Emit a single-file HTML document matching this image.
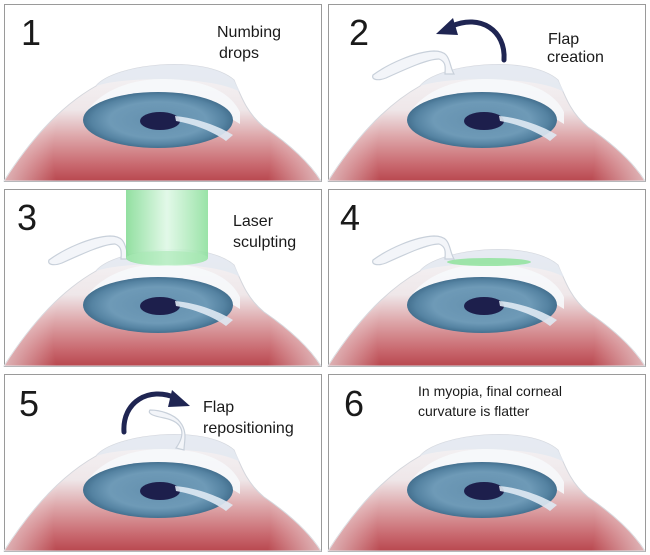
<!DOCTYPE html>
<html><head><meta charset="utf-8"><style>
html,body{margin:0;padding:0;background:#fff;}
svg{display:block;}
text{font-family:"Liberation Sans",sans-serif;fill:#1a1a1a;}
</style></head><body>
<svg width="650" height="555" viewBox="0 0 650 555" xmlns="http://www.w3.org/2000/svg">
<defs>
<linearGradient id="globe" gradientUnits="userSpaceOnUse" x1="0" y1="58" x2="0" y2="177">
<stop offset="0" stop-color="#f5f5f7"/>
<stop offset="0.4" stop-color="#efe7e9"/>
<stop offset="0.62" stop-color="#dea8ab"/>
<stop offset="0.85" stop-color="#ca6c72"/>
<stop offset="1" stop-color="#b9484f"/>
</linearGradient>
<radialGradient id="edge" gradientUnits="userSpaceOnUse" cx="158" cy="150" r="175">
<stop offset="0.62" stop-color="#fff" stop-opacity="0"/>
<stop offset="1" stop-color="#f0f0f0" stop-opacity="0.8"/>
</radialGradient>
<radialGradient id="iris" cx="0.5" cy="0.5" r="0.5">
<stop offset="0" stop-color="#6490ae"/>
<stop offset="0.65" stop-color="#6e9ab7"/>
<stop offset="0.88" stop-color="#5583a2"/>
<stop offset="1" stop-color="#44708f"/>
</radialGradient>
<linearGradient id="laser" x1="0" y1="0" x2="1" y2="0">
<stop offset="0" stop-color="#86dc96"/>
<stop offset="0.5" stop-color="#dff8e6"/>
<stop offset="1" stop-color="#8fe09e"/>
</linearGradient>
<g id="eye">
<path d="M0,177 C30,130 60,100 92,82 C110,60 200,50 230,76 C238,95 244,110 260,123 C285,140 305,158 317,177 Z" fill="url(#globe)" stroke="#d4d6dc" stroke-width="1"/>
<path d="M0,177 C30,130 60,100 92,82 C110,60 200,50 230,76 C238,95 244,110 260,123 C285,140 305,158 317,177 Z" fill="url(#edge)"/>
<path d="M92,82 C110,60 200,50 230,76 C232,80 234,84 236,88 C210,72 120,72 92,82 Z" fill="#e3e9f1" opacity="0.85"/>
<path d="M80,112 C95,85 130,75 158,75 C195,75 225,85 236,108 L236,120 C200,95 110,95 80,118 Z" fill="#f6f8fb" opacity="0.9"/>
<ellipse cx="154" cy="116" rx="75" ry="28" fill="url(#iris)"/>
<ellipse cx="156" cy="117" rx="20" ry="9" fill="#1d1f4c"/>
<path d="M171,112 C195,114 218,124 229,131 L222,137 C210,128 190,120 172,117 Z" fill="#dfe9f3" opacity="0.9"/>
</g>
<g id="flap">
<path d="M126,70 C120,60 124,47 106,47 C86,48 60,60 45,71 C43,76 50,77 58,74 C80,64 100,55 111,55 C119,58 117,65 117,70 Z" fill="#f3f5f9" stroke="#c8d0da" stroke-width="1.2"/>
</g>
</defs>

<g transform="translate(4,4)">
<rect x="0.5" y="0.5" width="317" height="177" fill="#fff" stroke="#9a9a9a"/>
<use href="#eye"/>
<text x="17" y="41" font-size="36">1</text>
<text x="213" y="33" font-size="16">Numbing</text>
<text x="215" y="54" font-size="16">drops</text>
</g>

<g transform="translate(328,4)">
<rect x="0.5" y="0.5" width="317" height="177" fill="#fff" stroke="#9a9a9a"/>
<use href="#eye"/>
<use href="#flap"/>
<path d="M176,56 C178,26 152,10 124,22" fill="none" stroke="#1f2552" stroke-width="5" stroke-linecap="round"/>
<polygon points="108,30 125,14 130,31" fill="#1f2552"/>
<text x="21" y="41" font-size="36">2</text>
<text x="220" y="40" font-size="16">Flap</text>
<text x="219" y="58" font-size="16">creation</text>
</g>

<g transform="translate(4,189)">
<rect x="0.5" y="0.5" width="317" height="177" fill="#fff" stroke="#9a9a9a"/>
<use href="#eye"/>
<use href="#flap"/>
<path d="M122,1 L204,1 L204,69 A41,8 0 0 1 122,69 Z" fill="url(#laser)" opacity="0.9"/>
<ellipse cx="163" cy="69" rx="41" ry="7" fill="#a8eab4" opacity="0.6"/>
<text x="13" y="41" font-size="36">3</text>
<text x="229" y="37" font-size="16">Laser</text>
<text x="229" y="58" font-size="16">sculpting</text>
</g>

<g transform="translate(328,189)">
<rect x="0.5" y="0.5" width="317" height="177" fill="#fff" stroke="#9a9a9a"/>
<use href="#eye"/>
<use href="#flap"/>
<ellipse cx="161" cy="73" rx="42" ry="4" fill="#8fe39c" opacity="0.85"/>
<text x="12" y="41" font-size="36">4</text>
</g>

<g transform="translate(4,374)">
<rect x="0.5" y="0.5" width="317" height="177" fill="#fff" stroke="#9a9a9a"/>
<use href="#eye"/>
<path d="M172,74 C182,60 180,48 160,44 C150,42 143,40 146,36 C156,36 170,40 176,48 C184,58 180,68 180,76 Z" fill="#f3f5f9" stroke="#c8d0da" stroke-width="1.2"/>
<text x="15" y="42" font-size="36">5</text>
<path d="M120,58 C118,28 145,12 172,24" fill="none" stroke="#1f2552" stroke-width="5" stroke-linecap="round"/>
<polygon points="186,32 168,16 164,33" fill="#1f2552"/>
<text x="199" y="38" font-size="16">Flap</text>
<text x="199" y="59" font-size="16">repositioning</text>
</g>

<g transform="translate(328,374)">
<rect x="0.5" y="0.5" width="317" height="177" fill="#fff" stroke="#9a9a9a"/>
<use href="#eye"/>
<text x="16" y="42" font-size="36">6</text>
<text x="90" y="22" font-size="14">In myopia, final corneal</text>
<text x="90" y="42" font-size="14">curvature is flatter</text>
</g>
</svg>
</body></html>
